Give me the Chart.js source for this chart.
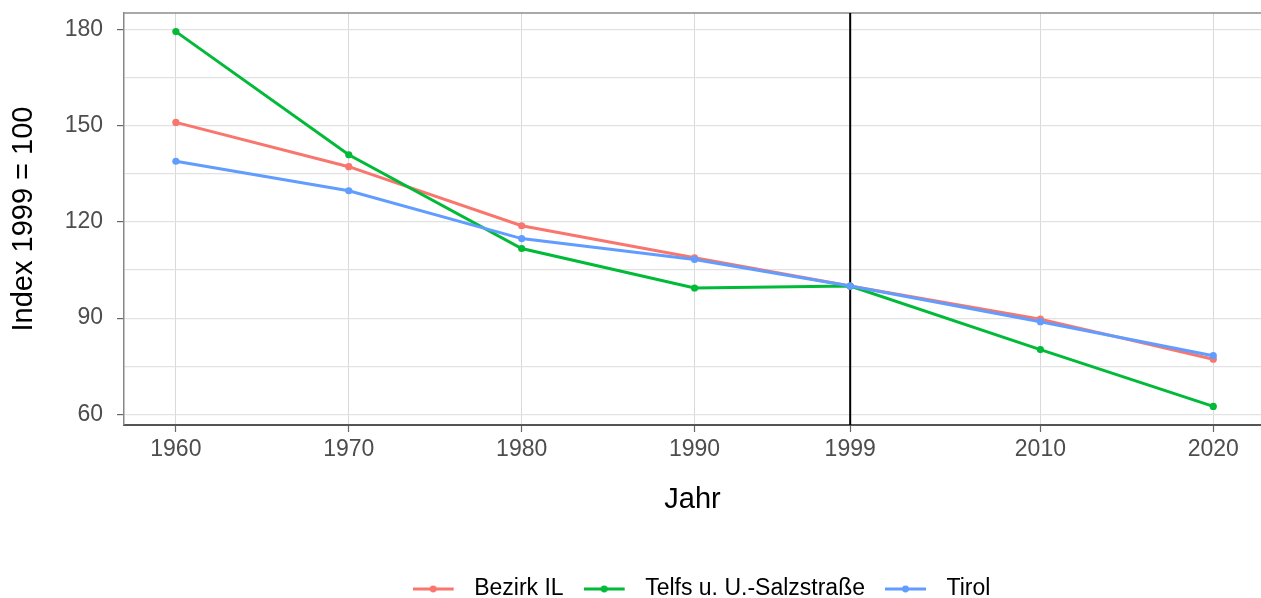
<!DOCTYPE html>
<html><head><meta charset="utf-8">
<script src="https://cdn.jsdelivr.net/npm/chart.js@4.4.1/dist/chart.umd.min.js"></script>
<style>html,body{margin:0;padding:0;background:#fff;}#wrap{width:1261px;height:598px;}</style>
</head><body><div id="wrap"><canvas id="c" width="1261" height="598"></canvas></div>
<script>
const years = [1960, 1970, 1980, 1990, 1999, 2010, 2020];
const bezirkIL = [151.0, 137.2, 118.8, 108.8, 100, 89.7, 77.2];
const telfs = [179.3, 140.9, 111.7, 99.4, 100, 80.2, 62.5];
const tirol = [138.9, 129.7, 114.8, 108.3, 100, 88.9, 78.3];
const seriesNames = ['Bezirk IL', 'Telfs u. U.-Salzstraße', 'Tirol'];
const seriesColors = ['#F8766D', '#00BA38', '#619CFF'];
const xTicks = [1960, 1970, 1980, 1990, 1999, 2010, 2020];
const yTickLabels = [60, 90, 120, 150, 180];
const yGridValues = [60, 75, 90, 105, 120, 135, 150, 165, 180];
const refYear = 1999;

const FONT = "'Liberation Sans', Arial, sans-serif";
const seriesValues = [bezirkIL, telfs, tirol];

function legendImg(color) {
  const c = document.createElement('canvas');
  c.width = 50; c.height = 10;
  const g = c.getContext('2d');
  g.strokeStyle = color; g.lineWidth = 3;
  g.beginPath(); g.moveTo(0, 5); g.lineTo(41, 5); g.stroke();
  g.fillStyle = color;
  g.beginPath(); g.arc(20.5, 5, 3.4, 0, Math.PI * 2); g.fill();
  return c;
}
const legendImgs = seriesColors.map(legendImg);

const extras = {
  id: 'extras',
  afterLayout(chart) {
    if (chart.legend) {
      chart.legend.left = 142;
      chart.legend.top = 557.5;
      chart.legend.bottom = chart.legend.top + chart.legend.height;
    }
  },
  beforeDatasetsDraw(chart) {
    const {ctx, chartArea: {left, right, top, bottom}, scales: {x}} = chart;
    ctx.save();
    ctx.strokeStyle = '#8c8c8c'; ctx.lineWidth = 1.5;
    ctx.beginPath(); ctx.moveTo(left, top); ctx.lineTo(right, top); ctx.stroke();
    const px = x.getPixelForValue(refYear);
    ctx.strokeStyle = '#000'; ctx.lineWidth = 2;
    ctx.beginPath(); ctx.moveTo(px, top); ctx.lineTo(px, bottom); ctx.stroke();
    ctx.restore();
  }
};

new Chart(document.getElementById('c'), {
  type: 'line',
  data: {
    datasets: seriesNames.map((n, i) => ({
      label: n,
      data: years.map((yr, j) => ({x: yr, y: seriesValues[i][j]})),
      borderColor: seriesColors[i],
      backgroundColor: seriesColors[i],
      pointBackgroundColor: seriesColors[i],
      pointBorderWidth: 0,
      pointRadius: 3.6,
      borderWidth: 3,
      tension: 0,
      fill: false,
      order: 3 - i
    }))
  },
  options: {
    responsive: false,
    animation: false,
    devicePixelRatio: 1,
    layout: {autoPadding: false, padding: {top: 13, left: 0, right: 0, bottom: 0}},
    plugins: {
      tooltip: {enabled: false},
      legend: {
        position: 'bottom',
        labels: {
          usePointStyle: true,
          pointStyleWidth: 50,
          padding: 20,
          color: '#000',
          font: {family: FONT, size: 23},
          generateLabels: () => seriesNames.map((n, i) => ({
            text: n, fillStyle: seriesColors[i], strokeStyle: seriesColors[i],
            lineWidth: 0, pointStyle: legendImgs[i], hidden: false, datasetIndex: i, fontColor: '#000'
          }))
        }
      }
    },
    scales: {
      x: {
        type: 'linear', min: 1957, max: 2022.76,
        afterBuildTicks: s => { s.ticks = xTicks.map(v => ({value: v})); },
        afterFit: s => { s.height = 120; s.paddingLeft = 0; s.paddingRight = 0; },
        ticks: {callback: v => String(v), autoSkip: false, maxRotation: 0, color: '#4d4d4d', font: {family: FONT, size: 23}, padding: 4},
        grid: {color: '#d9d9d9', lineWidth: 1, tickLength: 7, tickColor: '#666', tickWidth: 1.2},
        border: {color: '#555', width: 2},
        title: {display: true, text: 'Jahr', color: '#000', font: {family: FONT, size: 29}, padding: {top: 0, bottom: 28}}
      },
      y: {
        type: 'linear', min: 56.7, max: 185.1,
        afterBuildTicks: s => { s.ticks = yGridValues.map(v => ({value: v})); },
        afterFit: s => { s.width = 124; s.paddingTop = 0; s.paddingBottom = 0; },
        ticks: {callback: v => yTickLabels.includes(v) ? String(v) : '', color: '#4d4d4d', font: {family: FONT, size: 23}, padding: 14},
        grid: {color: '#e2e2e2', lineWidth: 1.2, tickLength: 7, tickWidth: 1.2,
               tickColor: c => (c.tick && yTickLabels.includes(c.tick.value)) ? '#666' : 'rgba(0,0,0,0)'},
        border: {color: '#888', width: 1.5},
        title: {display: true, text: 'Index 1999 = 100', color: '#000', font: {family: FONT, size: 29}, padding: {top: 7, bottom: 0}}
      }
    }
  },
  plugins: [extras]
});
</script></body></html>
